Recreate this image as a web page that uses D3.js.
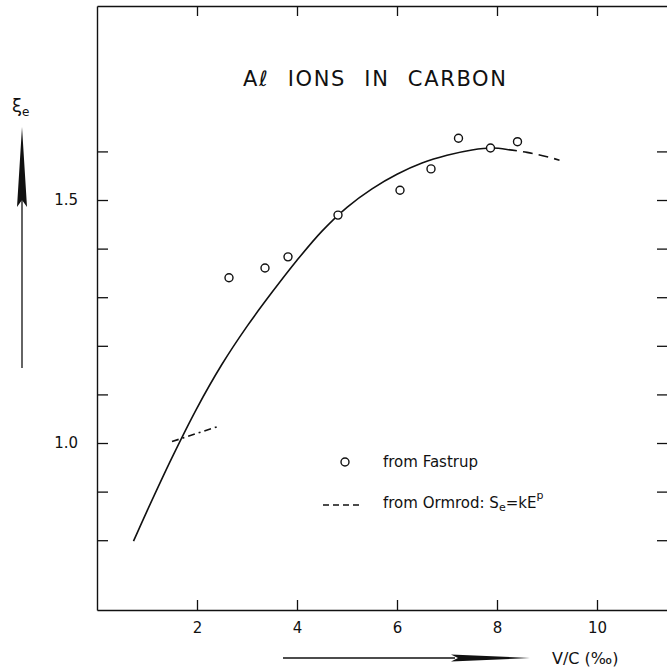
<!DOCTYPE html>
<html>
<head>
<meta charset="utf-8">
<script src="https://cdn.jsdelivr.net/npm/d3@7"></script>
<style>
  body { margin: 0; background: #fff; }
  svg { display: block; font-family: "DejaVu Sans", sans-serif; }
</style>
</head>
<body>
<svg id="chart" width="667" height="668"></svg>
<script>
// Fastrup measurements
const fastrupX = [2.64, 3.36, 3.82, 4.82, 6.06, 6.68, 7.23, 7.87, 8.41];
const fastrupY = [1.340, 1.360, 1.383, 1.469, 1.520, 1.564, 1.627, 1.607, 1.620];

// drawn fit curve (solid part, then dashed tail)
const curveX = [0.73, 1.0, 1.5, 2.0, 2.5, 3.0, 3.5, 4.0, 4.5, 5.0, 5.5, 6.0, 6.5, 7.0, 7.5, 7.9, 8.2];
const curveY = [0.798, 0.86, 0.97, 1.072, 1.162, 1.24, 1.31, 1.376, 1.436, 1.485, 1.523, 1.553, 1.576, 1.592, 1.603, 1.607, 1.604];
const tailX = [8.2, 8.6, 9.0, 9.25];
const tailY = [1.604, 1.598, 1.589, 1.582];

// Ormrod: Se = kE^p
const ormrodX = [1.5, 2.45];
const ormrodY = [1.003, 1.035];

const xTicks = [2, 4, 6, 8, 10];
const yTicks = [0.8, 0.9, 1.0, 1.1, 1.2, 1.3, 1.4, 1.5, 1.6];
const yLabels = [1.0, 1.5];

let svg = d3.select('#chart');

let x = d3.scaleLinear().domain([0, 11.4]).range([97, 667]);
let y = d3.scaleLinear().domain([0.6564, 1.8992]).range([610, 6]);

// axes
let axis_bottom = svg.append('g')
    .attr('transform', 'translate(0,610)')
    .call(d3.axisBottom(x).tickValues(xTicks).tickSizeInner(-10).tickSizeOuter(0).tickPadding(12));
let axis_top = svg.append('g')
    .attr('transform', 'translate(0,6)')
    .call(d3.axisTop(x).tickValues(xTicks).tickSizeInner(-10).tickSizeOuter(0).tickFormat(''));
let axis_left = svg.append('g')
    .attr('transform', 'translate(97,0)')
    .call(d3.axisLeft(y).tickValues(yTicks).tickSizeInner(-11).tickSizeOuter(0).tickPadding(19)
        .tickFormat(function (d) {
            return yLabels.some(function (v) { return Math.abs(v - d) < 1e-6; }) ? d3.format('.1f')(d) : '';
        }));
let axis_right = svg.append('g')
    .attr('transform', 'translate(667,0)')
    .call(d3.axisRight(y).tickValues(yTicks).tickSizeInner(-10).tickSizeOuter(0).tickFormat(''));
axis_right.select('.domain').remove();

svg.selectAll('.domain').attr('stroke', '#111').attr('stroke-width', 1.4);
svg.selectAll('.tick line').attr('stroke', '#111').attr('stroke-width', 1.3);
svg.selectAll('.tick text').attr('font-size', 15).attr('fill', '#111').attr('font-family', '"DejaVu Sans", sans-serif');

// curve
let line = d3.line()
    .x(function (d) { return x(d[0]); })
    .y(function (d) { return y(d[1]); })
    .curve(d3.curveCatmullRom);

svg.append('path')
    .attr('d', line(d3.zip(curveX, curveY)))
    .attr('fill', 'none').attr('stroke', '#111').attr('stroke-width', 1.6);

svg.append('path')
    .attr('d', line(d3.zip(tailX, tailY)))
    .attr('fill', 'none').attr('stroke', '#111').attr('stroke-width', 1.6)
    .attr('stroke-dasharray', '10,6');

svg.append('path')
    .attr('d', line(d3.zip(ormrodX, ormrodY)))
    .attr('fill', 'none').attr('stroke', '#111').attr('stroke-width', 1.6)
    .attr('stroke-dasharray', '7,4,2,4');

// points
svg.selectAll('.pt')
    .data(d3.zip(fastrupX, fastrupY))
    .enter().append('circle')
    .attr('class', 'pt')
    .attr('cx', function (d) { return x(d[0]); })
    .attr('cy', function (d) { return y(d[1]); })
    .attr('r', 4)
    .attr('fill', '#fff').attr('stroke', '#111').attr('stroke-width', 1.4);

// title
svg.append('text')
    .attr('x', 243).attr('y', 86)
    .attr('font-size', 21).attr('fill', '#111')
    .attr('word-spacing', 10)
    .attr('textLength', 263).attr('lengthAdjust', 'spacing')
    .text('A\u2113 IONS IN CARBON');

// legend
svg.append('circle')
    .attr('cx', 345).attr('cy', 462).attr('r', 4)
    .attr('fill', '#fff').attr('stroke', '#111').attr('stroke-width', 1.4);
svg.append('text')
    .attr('x', 383).attr('y', 467).attr('font-size', 15).attr('fill', '#111')
    .text('from Fastrup');
svg.append('line')
    .attr('x1', 323).attr('x2', 362).attr('y1', 505).attr('y2', 505)
    .attr('stroke', '#111').attr('stroke-width', 1.6).attr('stroke-dasharray', '6,4');
let orm = svg.append('text')
    .attr('x', 383).attr('y', 508).attr('font-size', 15).attr('fill', '#111');
orm.append('tspan').text('from Ormrod: S');
orm.append('tspan').attr('font-size', 11).attr('dy', 3).text('e');
orm.append('tspan').attr('dy', -3).text('=kE');
orm.append('tspan').attr('font-size', 11).attr('dy', -9).text('p');

// y label and arrow
let yl = svg.append('text').attr('x', 12).attr('y', 112).attr('font-size', 18).attr('fill', '#111');
yl.append('tspan').text('\u03be');
yl.append('tspan').attr('font-size', 12).attr('dy', 4).text('e');

svg.append('line')
    .attr('x1', 22).attr('x2', 22).attr('y1', 200).attr('y2', 368)
    .attr('stroke', '#111').attr('stroke-width', 1.3);
svg.append('path')
    .attr('d', 'M22,127 L27,207 L22,200 L17,207 Z')
    .attr('fill', '#111');

// x label and arrow
svg.append('line')
    .attr('x1', 283).attr('x2', 455).attr('y1', 658).attr('y2', 658)
    .attr('stroke', '#111').attr('stroke-width', 1.3);
svg.append('path')
    .attr('d', 'M530,658 L451,654.5 L458,658 L451,661.5 Z')
    .attr('fill', '#111');
svg.append('text')
    .attr('x', 552).attr('y', 664).attr('font-size', 16).attr('fill', '#111')
    .text('V/C (\u2030)');
</script>
</body>
</html>
